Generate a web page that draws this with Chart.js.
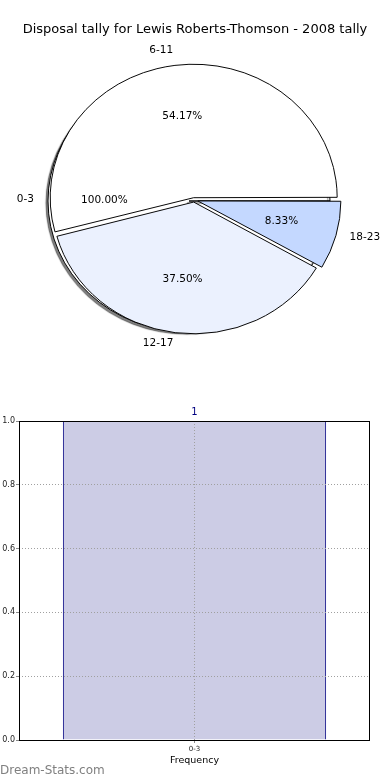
<!DOCTYPE html>
<html>
<head>
<meta charset="utf-8">
<script src="https://cdn.jsdelivr.net/npm/chart.js@4.4.1/dist/chart.umd.min.js"></script>
<style>
  body { margin: 0; background: #fff; font-family: "DejaVu Sans", sans-serif; }
  #box { position: relative; width: 390px; height: 780px; overflow: hidden; }
  canvas { position: absolute; left: 0; }
  #titulo { position: absolute; top: 21px; left: 0; width: 390px; text-align: center; font-size: 13px; color: #000; }
  #marca { position: absolute; left: 0; top: 763px; font-size: 12px; color: #808080; }
</style>
</head>
<body>
<div id="box">
  <canvas id="pieBase" width="390" height="370" style="top:0"></canvas>
  <canvas id="pieFatias" width="390" height="370" style="top:0"></canvas>
  <canvas id="grafico2" width="390" height="400" style="top:380px"></canvas>
  <div id="titulo">Disposal tally for Lewis Roberts-Thomson - 2008 tally</div>
  <div id="marca">Dream-Stats.com</div>
</div>
<script>

// dados
const baseLabels = ['0-3']
const baseValues = [1]

// slices in clockwise drawing order, starting at 3 o'clock
const pieLabels = ['18-23', '12-17', '6-11']
const pieValues = [2, 9, 13]
const pieColors = ['#c4d8ff', '#ebf1fe', '#ffffff']
const pieOffsets = [16, 9, 10]

const barLabels = ['0-3']
const barValues = [1]
const yTicks = [0, 0.2, 0.4, 0.6, 0.8, 1.0]

const escalaY = 0.93  // pie is a bit squashed

// labels of a pie chart, drawn on any ctx (both canvases share position)
function desenharRotulos(ctx, chart) {
    const meta = chart.getDatasetMeta(0)
    const valores = chart.data.datasets[0].data
    const total = valores.reduce((a, b) => a + b, 0)
    ctx.save()
    ctx.fillStyle = '#000'
    ctx.font = '10.5px "DejaVu Sans"'
    ctx.textBaseline = 'middle'
    meta.data.forEach((arc, i) => {
        const p = arc.getProps(['x', 'y', 'startAngle', 'endAngle', 'outerRadius', 'circumference'])
        const meio = (p.startAngle + p.endAngle) / 2
        const off = arc.options.offset || 0
        const desloc = off / 4 * (2 - Math.sin(Math.min(Math.PI, p.circumference)))
        const cx = p.x + Math.cos(meio) * desloc
        const cy = p.y + Math.sin(meio) * desloc

        const lx = cx + Math.cos(meio) * p.outerRadius * 1.1
        const ly = cy + Math.sin(meio) * p.outerRadius * 1.1
        ctx.textAlign = Math.cos(meio) < 0 ? 'right' : 'left'
        ctx.fillText(chart.data.labels[i], lx, p.y + (ly - p.y) * escalaY - 2)

        const px = cx + Math.cos(meio) * p.outerRadius * 0.6
        const py = cy + Math.sin(meio) * p.outerRadius * 0.6
        ctx.textAlign = 'center'
        ctx.fillText((valores[i] / total * 100).toFixed(2) + '%', px, p.y + (py - p.y) * escalaY - 1)
    })
    ctx.restore()
}

// squash + shadow for the pies
function piePlugin(sombra, outros) {
    return {
        id: 'piePlugin',
        beforeDatasetsDraw(chart) {
            const ctx = chart.ctx
            const arc = chart.getDatasetMeta(0).data[0]
            ctx.save()
            ctx.translate(arc.x, arc.y)
            ctx.scale(1, escalaY)
            ctx.translate(-arc.x, -arc.y)
            if (sombra) {
                ctx.shadowColor = 'rgba(0,0,0,0.5)'
                ctx.shadowOffsetX = -2
                ctx.shadowOffsetY = 2
                ctx.shadowBlur = 1
            }
        },
        afterDatasetsDraw(chart) {
            chart.ctx.restore()
        },
        afterDraw(chart) {
            if (!outros) return
            outros.forEach(c => desenharRotulos(chart.ctx, c))
            desenharRotulos(chart.ctx, chart)
        }
    }
}

const pieOptions = (padding) => ({
    responsive: false,
    animation: false,
    rotation: 90,
    radius: 141,
    layout: { padding: padding },
    plugins: {
        legend: { display: false },
        tooltip: { enabled: false }
    }
})

const pieBase = new Chart(document.getElementById('pieBase'), {
    type: 'pie',
    data: {
        labels: baseLabels,
        datasets: [{
            data: baseValues,
            backgroundColor: '#ffffff',
            borderColor: '#000',
            borderWidth: 1
        }]
    },
    options: pieOptions({ left: 44, right: 56, top: 56, bottom: 24 }),
    plugins: [piePlugin(true, null)]
})

new Chart(document.getElementById('pieFatias'), {
    type: 'pie',
    data: {
        labels: pieLabels,
        datasets: [{
            data: pieValues,
            backgroundColor: pieColors,
            offset: pieOffsets,
            borderColor: '#000',
            borderWidth: 1
        }]
    },
    options: pieOptions({ left: 49, right: 51, top: 55, bottom: 25 }),
    plugins: [piePlugin(false, [pieBase])]
})


// Gráfico de barras
const barPlugin = {
    id: 'barPlugin',
    afterDraw(chart) {
        const ctx = chart.ctx
        const a = chart.chartArea
        ctx.save()
        ctx.strokeStyle = '#000'
        ctx.lineWidth = 1
        ctx.strokeRect(a.left + 0.5, a.top + 0.5, a.right - a.left - 1, a.bottom - a.top)
        ctx.fillStyle = '#000080'
        ctx.font = '10px "DejaVu Sans"'
        ctx.textAlign = 'center'
        ctx.textBaseline = 'middle'
        chart.getDatasetMeta(0).data.forEach((bar, i) => {
            ctx.fillText(String(barValues[i]), bar.x, bar.y - 9)
        })
        ctx.restore()
    }
}

new Chart(document.getElementById('grafico2'), {
    type: 'bar',
    data: {
        labels: barLabels,
        datasets: [{
            data: barValues,
            backgroundColor: '#ccccE5',
            borderColor: '#000080',
            borderWidth: { left: 1, right: 1, top: 0, bottom: 0 },
            borderSkipped: false,
            barPercentage: 0.75,
            categoryPercentage: 1
        }]
    },
    options: {
        responsive: false,
        animation: false,
        layout: { padding: { top: 41, right: 20, left: 0, bottom: 0 } },
        plugins: {
            legend: { display: false },
            tooltip: { enabled: false }
        },
        scales: {
            x: {
                offset: true,
                afterFit: (s) => { s.height = 40 },
                grid: { z: 1, offset: false, color: '#a0a0a0', tickLength: 3, tickColor: '#888' },
                border: { display: false, dash: [1, 2] },
                ticks: { color: '#222', font: { size: 7, family: 'DejaVu Sans' }, padding: 2 },
                title: {
                    display: true,
                    text: 'Frequency',
                    color: '#000',
                    font: { size: 9.5, family: 'DejaVu Sans' },
                    padding: { top: 0, bottom: 14 }
                }
            },
            y: {
                min: 0,
                max: 1,
                afterFit: (s) => { s.width = 19 },
                afterBuildTicks: (s) => { s.ticks = yTicks.map(v => ({ value: v })) },
                grid: { z: 1, color: '#a0a0a0', tickLength: 3, tickColor: '#888' },
                border: { display: false, dash: [1, 2] },
                ticks: {
                    color: '#222',
                    font: { size: 8, family: 'DejaVu Sans' },
                    padding: 1,
                    callback: (v) => Number(v).toFixed(1)
                }
            }
        }
    },
    plugins: [barPlugin]
})
</script>
</body>
</html>
